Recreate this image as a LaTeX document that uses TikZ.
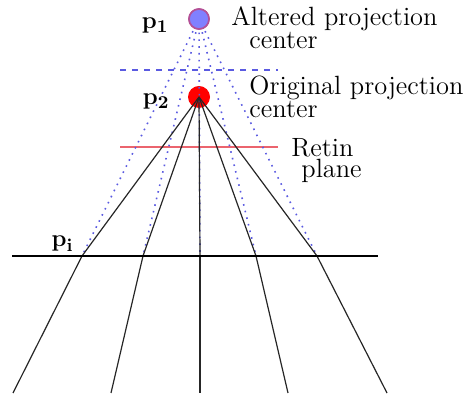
\documentclass[tikz,border=0pt]{standalone}
\usepackage{amsmath,amssymb}
\usepackage{tikz}
\usepackage{xcolor}
\usetikzlibrary{positioning}
\definecolor{altblue}{RGB}{128,128,255}
\definecolor{altrim}{RGB}{180,80,150}
\definecolor{rayblue}{RGB}{90,90,225}
\definecolor{retinred}{RGB}{235,100,110}

\begin{document}
\begin{tikzpicture}[
    x=0.5pt,y=-0.5pt,
    font=\fontsize{13.2}{10.5}\selectfont,
    center/.style={circle,minimum size=10pt,inner sep=0pt},
    ray/.style={line width=0.6pt,color=black!85},
    backray/.style={line width=0.8pt,dash pattern=on 0.8pt off 2.6pt,color=rayblue},
    label/.style={inner sep=0pt,align=left}
  ]
    \useasboundingbox (0,0) rectangle (470,399);

    % projection centers
    \node[center,draw=altrim,line width=0.8pt,fill=altblue] (pc1) at (199,19) {};
    \node[center,minimum size=11pt,fill=red] (pc2) at (199,97) {};

    % image line and ray ends
    \coordinate (il) at (12,256);
    \coordinate (ir) at (378,256);
    \coordinate (i1) at (82,256);
    \coordinate (i2) at (143,256);
    \coordinate (i3) at (200,256);
    \coordinate (i4) at (256,256);
    \coordinate (i5) at (317,256);
    \coordinate (b1) at (13,393);
    \coordinate (b2) at (111,393);
    \coordinate (b3) at (200,393);
    \coordinate (b4) at (288,393);
    \coordinate (b5) at (387,393);

    % planes
    \coordinate (dl) at (120,70);
    \coordinate (dr) at (278,70);
    \coordinate (rl) at (120,147);
    \coordinate (rr) at (278,147);
    \draw[dashed,line width=0.8pt,color=rayblue] (dl) -- (dr);
    \draw[line width=0.8pt,color=retinred] (rl) -- (rr);

    % rays from the altered center
    \draw[backray] (pc1.center) -- (i1);
    \draw[backray] (pc1.center) -- (i2);
    \draw[backray] (pc1.center) -- (i3);
    \draw[backray] (pc1.center) -- (i4);
    \draw[backray] (pc1.center) -- (i5);
    \node[center,draw=altrim,line width=0.8pt,fill=altblue] at (pc1) {};

    % rays from the original center
    \draw[ray] (pc2.center) -- (i1);
    \draw[ray] (pc2.center) -- (i2);
    \draw[ray] (pc2.center) -- (i3);
    \draw[ray] (pc2.center) -- (i4);
    \draw[ray] (pc2.center) -- (i5);
    \draw[ray] (i1) -- (b1);
    \draw[ray] (i2) -- (b2);
    \draw[ray] (i3) -- (b3);
    \draw[ray] (i4) -- (b4);
    \draw[ray] (i5) -- (b5);

    \draw[line width=1.2pt] (il) -- (ir);

    % labels (base = last line)
    \node[label,anchor=base east] (p1lab) at (169,29) {$\mathbf{p_1}$};
    \node[label,anchor=base east] (p2lab) at (170,105) {$\mathbf{p_2}$};
    \node[label,anchor=base east] (pilab) at (74,247) {$\mathbf{p_i}$};
    \node[label,anchor=base west] (alttext) at (231,49) {Altered projection\\\hspace*{9pt}center};
    \node[label,anchor=base west] (orgtext) at (249,118) {Original projection\\center};
    \node[label,anchor=base west] (rettext) at (291,178) {Retin\\\hspace*{5pt}plane};
  \end{tikzpicture}
\end{document}
